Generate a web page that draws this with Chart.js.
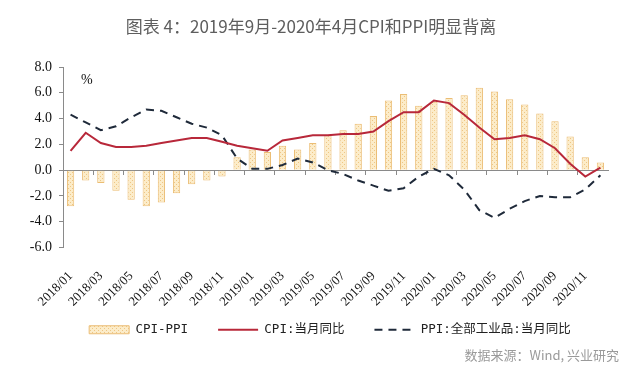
<!DOCTYPE html>
<html><head><meta charset="utf-8">
<script src="https://cdn.jsdelivr.net/npm/chart.js@4"></script>
<style>html,body{margin:0;padding:0;background:#fff}#wrap{width:640px;height:383px;position:relative}</style>
</head><body><div id="wrap"><canvas id="c"></canvas></div>
<script>
const months = ['2018/01','2018/02','2018/03','2018/04','2018/05','2018/06','2018/07','2018/08','2018/09','2018/10','2018/11','2018/12',
'2019/01','2019/02','2019/03','2019/04','2019/05','2019/06','2019/07','2019/08','2019/09','2019/10','2019/11','2019/12',
'2020/01','2020/02','2020/03','2020/04','2020/05','2020/06','2020/07','2020/08','2020/09','2020/10','2020/11','2020/12'];
const cpi = [1.5,2.9,2.1,1.8,1.8,1.9,2.1,2.3,2.5,2.5,2.2,1.9,
1.7,1.5,2.3,2.5,2.7,2.7,2.8,2.8,3.0,3.8,4.5,4.5,
5.4,5.2,4.3,3.3,2.4,2.5,2.7,2.4,1.7,0.5,-0.5,0.2];
const ppi = [4.3,3.7,3.1,3.4,4.1,4.7,4.6,4.1,3.6,3.3,2.7,0.9,
0.1,0.1,0.4,0.9,0.6,0.0,-0.3,-0.8,-1.2,-1.6,-1.4,-0.5,
0.1,-0.4,-1.5,-3.1,-3.7,-3.0,-2.4,-2.0,-2.1,-2.1,-1.5,-0.4];
const spread = [-2.8,-0.8,-1.0,-1.6,-2.3,-2.8,-2.5,-1.8,-1.1,-0.8,-0.5,1.0,
1.6,1.4,1.9,1.6,2.1,2.7,3.1,3.6,4.2,5.4,5.9,5.0,
5.3,5.6,5.8,6.4,6.1,5.5,5.1,4.4,3.8,2.6,1.0,0.6];
const seriesNames = ['CPI-PPI','CPI:当月同比','PPI:全部工业品:当月同比'];
const yMin = -6, yMax = 8, yStep = 2;
const titleText = '图表 4：2019年9月-2020年4月CPI和PPI明显背离';
const sourceText = '数据来源：Wind, 兴业研究';
const unitText = '%';

// dotted pattern for bars
const pc = document.createElement('canvas');
pc.width = 4; pc.height = 4;
const px = pc.getContext('2d');
px.fillStyle = '#fcecc9'; px.fillRect(0,0,4,4);
px.fillStyle = '#eec684'; px.fillRect(0,0,1,1); px.fillRect(2,2,1,1);
const pattern = px.createPattern(pc,'repeat');

const extraText = {
  id:'extraText',
  afterLayout(chart){
    const lg = chart.legend;
    if (lg) { lg.left += 20; lg.right += 20; lg.top -= 16; lg.bottom -= 16; }
  },
  afterDraw(chart){
    const ctx = chart.ctx;
    ctx.save();
    ctx.fillStyle = '#5e5e5e';
    ctx.font = '17px "Noto Sans CJK SC"';
    ctx.textAlign = 'center'; ctx.textBaseline = 'middle';
    ctx.fillText(titleText, 311, 27);
    ctx.fillStyle = '#111';
    ctx.font = '14px "Liberation Serif"';
    ctx.textAlign = 'left';
    ctx.fillText(unitText, 81, 80);
    ctx.fillStyle = '#9a9a9a';
    ctx.font = '13px "Noto Sans CJK SC"';
    ctx.textAlign = 'right';
    ctx.fillText(sourceText, 619, 355);
    ctx.restore();
  }
};

new Chart(document.getElementById('c'), {
  data: {
    labels: months,
    datasets: [
      {type:'bar', label: seriesNames[0], data: spread, backgroundColor: pattern, borderColor:'#ebbd74', borderWidth:1,
       categoryPercentage:1, barPercentage:0.48, order:3},
      {type:'line', label: seriesNames[1], data: cpi, borderColor:'#b8283a', backgroundColor:'#b8283a', borderWidth:2,
       pointRadius:0, tension:0, order:1},
      {type:'line', label: seriesNames[2], data: ppi, borderColor:'#1f2a3a', backgroundColor:'#1f2a3a', borderWidth:2,
       borderDash:[8,6], pointRadius:0, tension:0, order:2}
    ]
  },
  options: {
    responsive:true, maintainAspectRatio:false, animation:false, devicePixelRatio:1,
    layout:{padding:{left:12,right:32,top:67,bottom:21}},
    plugins:{
      title:{display:false},
      legend:{position:'bottom', labels:{
        usePointStyle:true, pointStyleWidth:40, boxHeight:8, padding:30, color:'#222',
        font:{family:'"DejaVu Sans Mono","Noto Sans CJK SC"', size:12.5},
        generateLabels: chart => chart.data.datasets.map((ds,i)=>({
          text: ds.label, datasetIndex:i, fillStyle: ds.backgroundColor, strokeStyle: ds.borderColor,
          lineWidth: i===0?1:2, lineDash: ds.borderDash || [], pointStyle: i===0?'rect':'line', hidden:false, fontColor:'#222'
        }))
      }},
      tooltip:{enabled:false}
    },
    scales:{
      x:{type:'category', position:'bottom', offset:true,
        border:{display:false}, grid:{display:false},
        afterFit: s => { s.height = 62; },
        ticks:{autoSkip:false, minRotation:45, maxRotation:45, padding:13, color:'#111',
          font:{family:'"Liberation Serif"', size:13},
          callback:(v,i)=> i%2===0 ? months[i] : ''}},
      x0:{type:'category', position:{y:0}, offset:true,
        border:{display:true, color:'#8a8a8a', width:1},
        grid:{display:true, drawOnChartArea:false, drawTicks:true, tickLength:4, offset:true,
          tickColor: c => (c.index%2===0 ? '#8a8a8a' : 'rgba(0,0,0,0)')},
        ticks:{display:false}},
      y:{type:'linear', min:yMin, max:yMax,
        afterFit: s => { s.width = 51; },
        border:{display:true, color:'#8a8a8a', width:1},
        grid:{display:true, drawOnChartArea:false, drawTicks:true, tickLength:4, tickColor:'#8a8a8a'},
        ticks:{stepSize:yStep, padding:7, color:'#111', font:{family:'"Liberation Serif"', size:14},
          callback: v => v.toFixed(1)}}
    }
  },
  plugins:[extraText]
});
</script></body></html>
